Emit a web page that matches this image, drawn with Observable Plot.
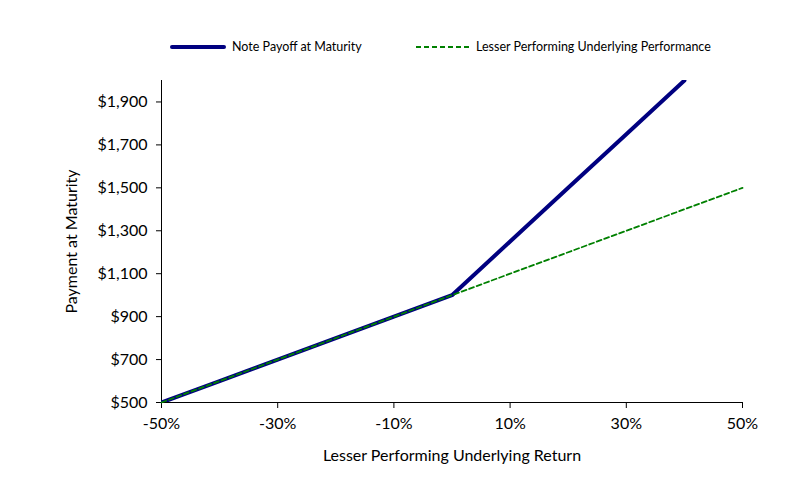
<!DOCTYPE html>
<html><head><meta charset="utf-8">
<script src="https://cdn.jsdelivr.net/npm/d3@7"></script>
<script src="https://cdn.jsdelivr.net/npm/@observablehq/plot@0.6"></script>
<style>
body{margin:0;background:#fff;font-family:Lato,"Open Sans",sans-serif;}
#wrap{position:relative;width:804px;height:479px;}
#legend{position:absolute;left:0;top:0;width:804px;height:70px;font-size:12.5px;color:#000;}
.item{position:absolute;top:39px;display:flex;align-items:center;}
.item svg{margin-right:6px;}
</style></head><body>
<div id="wrap">
<div id="chart"></div>
<div id="legend">
 <div class="item" style="left:170px"><svg width="56" height="8"><line x1="2" y1="4" x2="54" y2="4" stroke="#000080" stroke-width="4" stroke-linecap="round"/></svg>Note Payoff at Maturity</div>
 <div class="item" style="left:415px"><svg width="55" height="8"><line x1="1" y1="4" x2="54" y2="4" stroke="#008000" stroke-width="1.8" stroke-dasharray="5,3"/></svg>Lesser Performing Underlying Performance</div>
</div>
</div>
<script>
const noteReturns = [-50, -40, -30, -20, -10, 0, 10, 20, 30, 40];
const notePayoff = [500, 600, 700, 800, 900, 1000, 1250, 1500, 1750, 2000];
const underReturns = [-50, -40, -30, -20, -10, 0, 10, 20, 30, 40, 50];
const underPayoff = [500, 600, 700, 800, 900, 1000, 1100, 1200, 1300, 1400, 1500];
const xTicks = [-50, -30, -10, 10, 30, 50];
const yTicks = [500, 700, 900, 1100, 1300, 1500, 1700, 1900];

const note = noteReturns.map((r, i) => ({r, v: notePayoff[i]}));
const under = underReturns.map((r, i) => ({r, v: underPayoff[i]}));

const chart = Plot.plot({
  width: 804, height: 479,
  marginLeft: 161, marginRight: 62, marginTop: 80, marginBottom: 77,
  style: {fontFamily: "Lato, 'Open Sans', sans-serif", fontSize: "16px", color: "#000", background: "#fff"},
  x: {domain: [-50, 50]},
  y: {domain: [500, 2000]},
  marks: [
    Plot.axisX({ticks: xTicks, tickFormat: d => d + "%", tickSize: 6, tickPadding: 9, fontSize: 16,
      label: "Lesser Performing Underlying Return", labelAnchor: "center", labelArrow: "none", labelOffset: 58}),
    Plot.axisY({ticks: yTicks, tickFormat: d => "$" + d3.format(",")(d), tickSize: 5, tickPadding: 9, fontSize: 16,
      label: "Payment at Maturity", labelAnchor: "center", labelArrow: "none", labelOffset: 96}),
    Plot.ruleX([-50], {stroke: "#000", strokeWidth: 1}),
    Plot.ruleY([500], {stroke: "#000", strokeWidth: 1}),
    Plot.line(note, {x: "r", y: "v", stroke: "#000080", strokeWidth: 4, clip: true}),
    Plot.line(under, {x: "r", y: "v", stroke: "#008000", strokeWidth: 1.8, strokeDasharray: "5,3"})
  ]
});
document.getElementById("chart").appendChild(chart);
</script>
</body></html>
